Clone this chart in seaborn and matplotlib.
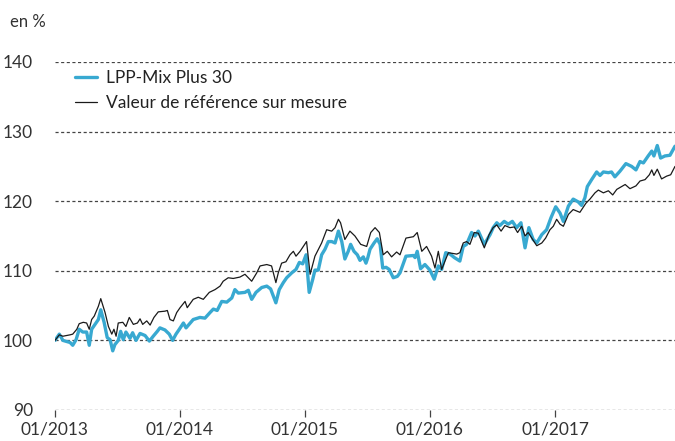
import matplotlib
matplotlib.use("Agg")
import matplotlib.pyplot as plt
import numpy as np
import pandas as pd
import seaborn as sns

# ---- data (x = weeks since 2013-01-01) ----
lpp_weeks = [0, 1.8, 3.3, 6.3, 7.4, 8.8, 10.1, 11.6, 13.2, 14.3, 15.3, 16.7, 18.1, 19.1, 20.5,
             21.8, 23.0, 24.1, 25.0, 26.4, 27.4, 28.5, 29.6, 31.3, 32.4, 33.8, 35.5, 37.6, 39.4,
             41.0, 42.7, 43.8, 45.9, 47.7, 49.1, 50.5, 51.9, 53.6, 54.7, 57.7, 60.5, 62.6, 64.7,
             66.1, 67.7, 69.6, 71.7, 73.8, 75.1, 76.5, 79.3, 80.7, 82.1, 83.9, 86.3, 88.4, 90.0,
             92.2, 93.6, 95.3, 96.7, 98.8, 100.6, 102.0, 103.4, 104.8, 106.1, 107.6, 108.5, 109.9,
             111.3, 112.7, 114.1, 115.5, 116.9, 118.3, 119.7, 121.0, 122.4, 123.4, 124.8, 126.2,
             127.3, 128.7, 129.8, 130.5, 131.5, 133.2, 134.5, 135.7, 136.8, 138.2, 139.5, 141.2,
             142.9, 144.0, 146.5, 149.6, 150.3, 151.2, 152.6, 154.4, 156.5, 158.3, 160.0, 161.4,
             163.1, 164.9, 166.7, 169.0, 170.4, 171.8, 173.9, 175.3, 176.7, 179.2, 181.6, 182.9,
             184.4, 185.7, 187.5, 189.2, 190.9, 192.7, 194.5, 196.2, 197.8, 199.6, 201.1, 203.2,
             205.2, 207.0, 209.0, 210.8, 212.2, 214.3, 216.3, 218.4, 219.8, 221.2, 222.2, 224.0,
             226.1, 227.5, 228.9, 231.0, 232.3, 233.7, 235.8, 238.3, 240.7, 242.5, 244.2, 245.6,
             247.6, 249.1, 250.0, 251.4, 252.8, 254.6, 256.7, 258.8]
lpp_values = [100.0, 100.9, 100.0, 99.7, 99.3, 100.1, 101.6, 101.2, 101.2, 99.3, 101.6, 102.3, 103.0,
              104.4, 102.6, 100.4, 100.1, 98.5, 99.4, 100.0, 101.3, 100.1, 101.2, 100.3, 101.1,
              100.0, 101.0, 100.7, 99.9, 100.6, 101.3, 101.8, 101.5, 100.9, 100.0, 100.9, 101.6,
              102.5, 101.8, 103.0, 103.3, 103.2, 104.0, 104.5, 104.3, 105.6, 105.5, 106.1, 107.3,
              106.8, 106.9, 107.2, 105.9, 106.9, 107.6, 107.8, 107.4, 105.4, 107.3, 108.3, 109.0,
              109.7, 110.2, 111.2, 111.0, 112.3, 106.9, 108.8, 110.1, 110.1, 112.3, 113.1, 114.2,
              114.2, 114.0, 115.7, 114.2, 111.7, 112.8, 113.8, 112.8, 112.3, 111.5, 112.0, 111.1,
              111.8, 113.1, 114.0, 114.6, 113.8, 110.4, 110.5, 110.2, 109.0, 109.2, 109.7, 112.1,
              112.2, 111.9, 112.8, 110.3, 110.9, 110.1, 108.8, 110.7, 110.2, 112.6, 112.4, 111.9,
              111.4, 113.5, 113.8, 115.5, 115.0, 115.7, 113.8, 115.2, 116.2, 116.9, 116.5, 117.1,
              116.7, 117.1, 116.2, 116.9, 113.3, 116.2, 114.5, 114.0, 115.2, 115.9, 117.6, 119.2,
              118.3, 117.1, 119.3, 120.3, 119.9, 119.4, 120.5, 122.1, 123.1, 124.2, 123.7, 124.2,
              124.1, 124.2, 123.5, 124.3, 125.4, 125.0, 124.5, 125.7, 125.5, 126.5, 127.2, 126.5,
              128.0, 126.2, 126.5, 126.6, 127.9]

ref_weeks = [0, 1.8, 3.3, 6.3, 7.4, 9.1, 10.1, 11.8, 13.2, 14.3, 15.3, 16.4, 18.1, 19.1, 20.9,
             22.3, 23.7, 24.6, 25.5, 26.4, 28.3, 29.6, 31.0, 32.7, 34.4, 35.5, 36.6, 38.3, 39.7,
             41.3, 43.1, 45.9, 46.9, 48.0, 49.4, 50.8, 52.2, 54.3, 55.2, 57.7, 59.8, 61.9, 64.4,
             66.8, 68.9, 70.2, 72.3, 74.4, 77.2, 79.3, 82.1, 84.2, 85.6, 88.4, 90.4, 92.2, 93.2,
             94.6, 96.4, 98.1, 99.5, 100.6, 102.3, 105.0, 106.5, 108.5, 111.3, 113.4, 115.5,
             116.9, 118.3, 119.2, 121.0, 123.1, 125.2, 127.6, 130.1, 131.8, 133.6, 135.4, 137.0,
             138.7, 140.5, 142.6, 144.0, 146.5, 149.6, 151.2, 153.1, 155.1, 157.2, 158.6, 160.0,
             161.4, 164.2, 167.7, 169.0, 170.4, 171.8, 173.2, 175.0, 176.7, 179.2, 181.2, 182.9,
             184.4, 186.2, 187.8, 189.9, 191.7, 193.1, 194.8, 196.2, 197.5, 201.1, 203.2, 204.8,
             206.6, 208.0, 209.4, 210.8, 212.2, 214.3, 216.3, 219.1, 221.6, 223.3, 225.4, 226.8,
             228.9, 231.0, 232.8, 234.5, 238.0, 240.0, 242.5, 244.2, 246.3, 248.1, 249.1, 250.0,
             251.4, 253.2, 255.3, 257.0, 258.8]
ref_values = [100.0, 100.8, 100.6, 100.8, 100.9, 101.6, 102.4, 102.6, 102.5, 101.6, 103.0, 103.5,
              104.9, 106.0, 104.0, 102.0, 100.9, 101.6, 100.6, 102.5, 102.6, 102.0, 103.3, 102.3,
              102.5, 103.1, 102.3, 102.8, 102.2, 103.3, 104.1, 104.2, 104.3, 103.0, 102.8, 104.0,
              104.7, 105.6, 104.7, 105.9, 106.2, 105.9, 106.9, 107.3, 107.8, 108.5, 109.0, 108.9,
              109.1, 109.5, 108.5, 109.7, 110.7, 110.9, 110.7, 108.3, 109.7, 111.1, 111.3, 112.3,
              112.8, 112.1, 112.8, 114.2, 109.5, 112.1, 114.0, 115.9, 115.7, 116.2, 117.4, 116.9,
              114.5, 115.7, 115.0, 113.8, 113.5, 115.5, 116.2, 115.5, 112.3, 112.8, 112.0, 112.7,
              112.3, 114.7, 114.9, 115.5, 112.8, 113.5, 112.1, 110.4, 112.8, 110.2, 112.6, 112.4,
              112.6, 114.0, 114.2, 113.8, 115.5, 115.4, 113.3, 115.2, 116.2, 116.6, 115.7, 116.5,
              116.2, 116.3, 115.5, 116.4, 115.0, 115.5, 113.6, 114.0, 114.7, 115.9, 116.4, 117.4,
              116.7, 116.4, 118.1, 118.8, 118.4, 119.7, 120.3, 121.2, 121.6, 121.2, 121.5, 120.9,
              121.7, 122.4, 121.8, 122.2, 122.9, 123.1, 123.8, 124.5, 123.7, 124.6, 123.2, 123.6,
              123.8, 125.0]

series_names = ["LPP-Mix Plus 30", "Valeur de référence sur mesure"]
y_ticks = [90, 100, 110, 120, 130, 140]
x_tick_labels = ["01/2013", "01/2014", "01/2015", "01/2016", "01/2017"]
y_unit = "en %"

start = pd.Timestamp("2013-01-01")
def to_dates(weeks):
    return start + pd.to_timedelta(np.array(weeks) * 7.0, unit="D")

df_lpp = pd.DataFrame({"date": to_dates(lpp_weeks), "value": lpp_values})
df_ref = pd.DataFrame({"date": to_dates(ref_weeks), "value": ref_values})

sns.set_style("white")
plt.rcParams["font.family"] = ["Lato", "DejaVu Sans"]

fig = plt.figure(figsize=(6.75, 4.41), dpi=100)
ax = fig.add_axes([55 / 675, 1 - 410 / 441, 620 / 675, (410 - 62) / 441])

blue = "#38A9D1"
sns.lineplot(data=df_lpp, x="date", y="value", ax=ax, color=blue, linewidth=2.4,
             label=series_names[0], zorder=3)
sns.lineplot(data=df_ref, x="date", y="value", ax=ax, color="#1a1a1a", linewidth=0.9,
             label=series_names[1], zorder=4)

ax.set_ylim(90, 140)
ax.set_xlim(start, start + pd.Timedelta(days=258.8 * 7))
ax.set_yticks(y_ticks)
ax.set_yticklabels([str(t) for t in y_ticks])
xt = [pd.Timestamp(f"{2013 + i}-01-01") for i in range(len(x_tick_labels))]
ax.set_xticks(xt)
ax.set_xticklabels(x_tick_labels)

for s in ["top", "right", "left", "bottom"]:
    ax.spines[s].set_visible(False)

for t in y_ticks:
    ax.axhline(t, color="#444444", linewidth=0.9, linestyle=(0, (2.5, 2.0)), zorder=1)

ax.tick_params(axis="y", length=0, pad=16, labelsize=12.5, labelcolor="#333333")
ax.tick_params(axis="x", length=5, width=0.9, color="#444444", direction="out",
               pad=3, labelsize=12.5, labelcolor="#333333", bottom=True)
ax.set_xlabel("")
ax.set_ylabel("")

fig.text(10 / 675, 1 - 22 / 441, y_unit, fontsize=12, color="#333333", va="center", ha="left")

leg = ax.legend(loc="upper left", bbox_to_anchor=(0.032, 0.978), frameon=False, fontsize=12.5,
                handlelength=1.3, handletextpad=0.5, labelspacing=0.55, borderaxespad=0,
                borderpad=0)
for txt in leg.get_texts():
    txt.set_color("#222222")

fig.savefig("out.png", dpi=100)
